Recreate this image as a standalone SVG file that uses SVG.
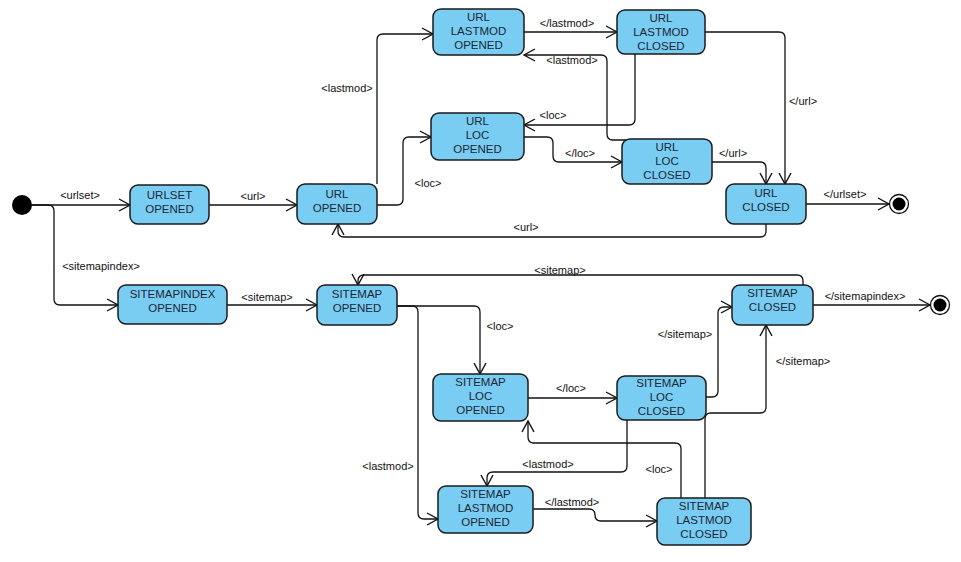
<svg xmlns="http://www.w3.org/2000/svg" width="961" height="562" viewBox="0 0 961 562">
<style>
.n{fill:#79cdf3;stroke:#1a1a1a;stroke-width:1.5}
.t{font-family:"Liberation Sans",Arial,sans-serif;font-size:11.5px;fill:#1b2733;text-anchor:middle}
.l{font-family:"Liberation Sans",Arial,sans-serif;font-size:11px;fill:#111;text-anchor:middle}
.c{fill:none;stroke:#111;stroke-width:1.3}
</style>
<defs>
<marker id="a" markerUnits="userSpaceOnUse" markerWidth="14" markerHeight="14" refX="12" refY="7" orient="auto" overflow="visible">
<path d="M1,1 L12,7 L1,13" fill="none" stroke="#111" stroke-width="1.4"/>
</marker>
</defs>
<rect width="961" height="562" fill="#fff"/>
<g id="connectors">
<path class="c" marker-end="url(#a)" d="M32,205 H130"/>
<path class="c" marker-end="url(#a)" d="M32,205 H48 Q54,205 54,211 V299 Q54,305 60,305 H118"/>
<path class="c" marker-end="url(#a)" d="M209,205 H297"/>
<path class="c" marker-end="url(#a)" d="M377,184 V40 Q377,34 383,34 H433"/>
<path class="c" marker-end="url(#a)" d="M377,205 H397 Q403,205 403,199 V143 Q403,137 409,137 H431"/>
<path class="c" marker-end="url(#a)" d="M524,32 H617"/>
<path class="c" marker-end="url(#a)" d="M635,54 V119 Q635,125 629,125 H524"/>
<path class="c" marker-end="url(#a)" d="M627,140 H613 Q607,140 607,134 V61 Q607,55 601,55 H524"/>
<path class="c" marker-end="url(#a)" d="M524,137 H547 Q553,137 553,143 V156 Q553,162 559,162 H622"/>
<path class="c" marker-end="url(#a)" d="M712,162 H760 Q766,162 766,168 V184"/>
<path class="c" marker-end="url(#a)" d="M705,32 H779 Q785,32 785,38 V184"/>
<path class="c" marker-end="url(#a)" d="M766,224 V231 Q766,237 760,237 H344 Q338,237 338,231 V224"/>
<path class="c" marker-end="url(#a)" d="M806,204 H889"/>
<path class="c" marker-end="url(#a)" d="M227,305 H317"/>
<path class="c" marker-end="url(#a)" d="M803,285 V281 Q803,275 797,275 H364 Q358,275 358,281 V285"/>
<path class="c" marker-end="url(#a)" d="M397,306 H474 Q480,306 480,312 V374"/>
<path class="c" marker-end="url(#a)" d="M397,306 H412 Q418,306 418,312 V513 Q418,519 424,519 H438"/>
<path class="c" marker-end="url(#a)" d="M528,398 H617"/>
<path class="c" marker-end="url(#a)" d="M706,397 H712 Q718,397 718,391 V313 Q718,307 724,307 H732"/>
<path class="c" marker-end="url(#a)" d="M705,498 V419 Q705,413 711,413 H760 Q766,413 766,407 V325"/>
<path class="c" marker-end="url(#a)" d="M627,420 V466 Q627,472 621,472 H493 Q487,472 487,478 V486"/>
<path class="c" marker-end="url(#a)" d="M681,498 V449 Q681,443 675,443 H534 Q528,443 528,437 V421"/>
<path class="c" marker-end="url(#a)" d="M533,509 H589 Q595,509 595,515 Q595,521 601,521 H657"/>
<path class="c" marker-end="url(#a)" d="M813,305 H930"/>
</g>
<g id="labels">
<text class="l" x="80" y="199">&lt;urlset&gt;</text>
<text class="l" x="101" y="270">&lt;sitemapindex&gt;</text>
<text class="l" x="253" y="200">&lt;url&gt;</text>
<text class="l" x="347" y="92">&lt;lastmod&gt;</text>
<text class="l" x="428" y="187">&lt;loc&gt;</text>
<text class="l" x="567" y="27">&lt;/lastmod&gt;</text>
<text class="l" x="553" y="119">&lt;loc&gt;</text>
<text class="l" x="572" y="64">&lt;lastmod&gt;</text>
<text class="l" x="580" y="157">&lt;/loc&gt;</text>
<text class="l" x="733" y="157">&lt;/url&gt;</text>
<text class="l" x="803" y="105">&lt;/url&gt;</text>
<text class="l" x="526" y="231">&lt;url&gt;</text>
<text class="l" x="845" y="198">&lt;/urlset&gt;</text>
<text class="l" x="267" y="301">&lt;sitemap&gt;</text>
<text class="l" x="560" y="274">&lt;sitemap&gt;</text>
<text class="l" x="500" y="330">&lt;loc&gt;</text>
<text class="l" x="388" y="470">&lt;lastmod&gt;</text>
<text class="l" x="571" y="392">&lt;/loc&gt;</text>
<text class="l" x="685" y="338">&lt;/sitemap&gt;</text>
<text class="l" x="803" y="365">&lt;/sitemap&gt;</text>
<text class="l" x="548" y="468">&lt;lastmod&gt;</text>
<text class="l" x="659" y="473">&lt;loc&gt;</text>
<text class="l" x="572" y="506">&lt;/lastmod&gt;</text>
<text class="l" x="865" y="300">&lt;/sitemapindex&gt;</text>
</g>
<g id="start"><circle cx="22" cy="205" r="10" fill="#000"/></g>
<g id="end-urlset"><circle cx="899" cy="204" r="9.5" fill="#fff" stroke="#111" stroke-width="1.3"/><circle cx="899" cy="204" r="6.5" fill="#000"/></g>
<g id="end-sitemapindex"><circle cx="940" cy="305" r="9.5" fill="#fff" stroke="#111" stroke-width="1.3"/><circle cx="940" cy="305" r="6.5" fill="#000"/></g>
<g id="urlset-opened"><rect class="n" x="130" y="185" width="79" height="39" rx="8"/><text class="t" x="169.5" y="199">URLSET</text><text class="t" x="169.5" y="213">OPENED</text></g>
<g id="url-opened"><rect class="n" x="297" y="184" width="80" height="40" rx="8"/><text class="t" x="337" y="198">URL</text><text class="t" x="337" y="212">OPENED</text></g>
<g id="url-lastmod-opened"><rect class="n" x="433" y="9" width="91" height="46" rx="8"/><text class="t" x="478.5" y="21">URL</text><text class="t" x="478.5" y="35">LASTMOD</text><text class="t" x="478.5" y="49">OPENED</text></g>
<g id="url-loc-opened"><rect class="n" x="431" y="113" width="93" height="47" rx="8"/><text class="t" x="477.5" y="125">URL</text><text class="t" x="477.5" y="139">LOC</text><text class="t" x="477.5" y="153">OPENED</text></g>
<g id="url-lastmod-closed"><rect class="n" x="617" y="10" width="88" height="44" rx="8"/><text class="t" x="661" y="22">URL</text><text class="t" x="661" y="36">LASTMOD</text><text class="t" x="661" y="50">CLOSED</text></g>
<g id="url-loc-closed"><rect class="n" x="622" y="139" width="90" height="45" rx="8"/><text class="t" x="667" y="151">URL</text><text class="t" x="667" y="165">LOC</text><text class="t" x="667" y="179">CLOSED</text></g>
<g id="url-closed"><rect class="n" x="726" y="184" width="80" height="40" rx="8"/><text class="t" x="766" y="197">URL</text><text class="t" x="766" y="211">CLOSED</text></g>
<g id="sitemapindex-opened"><rect class="n" x="118" y="285" width="109" height="39" rx="8"/><text class="t" x="172.5" y="298">SITEMAPINDEX</text><text class="t" x="172.5" y="312">OPENED</text></g>
<g id="sitemap-opened"><rect class="n" x="317" y="285" width="80" height="40" rx="8"/><text class="t" x="357" y="298">SITEMAP</text><text class="t" x="357" y="312">OPENED</text></g>
<g id="sitemap-loc-opened"><rect class="n" x="433" y="374" width="95" height="47" rx="8"/><text class="t" x="480.5" y="386">SITEMAP</text><text class="t" x="480.5" y="400">LOC</text><text class="t" x="480.5" y="414">OPENED</text></g>
<g id="sitemap-closed"><rect class="n" x="732" y="285" width="81" height="40" rx="8"/><text class="t" x="772.5" y="297">SITEMAP</text><text class="t" x="772.5" y="311">CLOSED</text></g>
<g id="sitemap-loc-closed"><rect class="n" x="617" y="376" width="89" height="44" rx="8"/><text class="t" x="661.5" y="387">SITEMAP</text><text class="t" x="661.5" y="401">LOC</text><text class="t" x="661.5" y="415">CLOSED</text></g>
<g id="sitemap-lastmod-opened"><rect class="n" x="438" y="486" width="95" height="47" rx="8"/><text class="t" x="485.5" y="498">SITEMAP</text><text class="t" x="485.5" y="512">LASTMOD</text><text class="t" x="485.5" y="526">OPENED</text></g>
<g id="sitemap-lastmod-closed"><rect class="n" x="657" y="498" width="94" height="47" rx="8"/><text class="t" x="704" y="510">SITEMAP</text><text class="t" x="704" y="524">LASTMOD</text><text class="t" x="704" y="538">CLOSED</text></g>
</svg>
